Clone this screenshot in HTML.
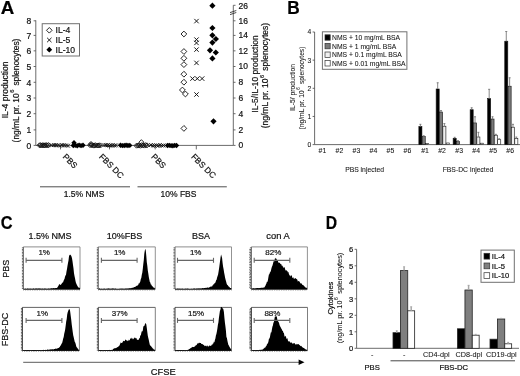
<!DOCTYPE html>
<html lang="en">
<head>
<meta charset="utf-8">
<title>Figure: cytokine production and CFSE proliferation</title>
<style>
html,body{margin:0;padding:0;background:#fff;}
body{width:520px;height:376px;overflow:hidden;}
svg{display:block;font-family:'Liberation Sans', sans-serif;}
text{stroke:#111;stroke-width:0.2px;}
text.s{stroke-width:0.06px;}
</style>
</head>
<body>
<svg width="520" height="376" viewBox="0 0 520 376">
<defs><filter id="soft" x="-2%" y="-2%" width="104%" height="104%"><feGaussianBlur stdDeviation="0.3"/></filter></defs>
<rect width="520" height="376" fill="#fff"/>
<g filter="url(#soft)">
<g id="panelA">
<text transform="translate(0.70 14.10) scale(1.05 1)" font-size="17.8" font-weight="bold" fill="#000" stroke="#000" stroke-width="0.2">A</text>
<line x1="35.80" y1="20.30" x2="35.80" y2="145.40" stroke="#505050" stroke-width="0.85" />
<line x1="35.80" y1="145.40" x2="233.30" y2="145.40" stroke="#505050" stroke-width="0.85" />
<line x1="33.60" y1="145.40" x2="35.80" y2="145.40" stroke="#505050" stroke-width="0.85" />
<text x="31.20" y="148.60" font-size="8.5" text-anchor="end" font-weight="normal" fill="#111" >0</text>
<line x1="33.60" y1="129.90" x2="35.80" y2="129.90" stroke="#505050" stroke-width="0.85" />
<text x="31.20" y="133.10" font-size="8.5" text-anchor="end" font-weight="normal" fill="#111" >1</text>
<line x1="33.60" y1="113.70" x2="35.80" y2="113.70" stroke="#505050" stroke-width="0.85" />
<text x="31.20" y="116.90" font-size="8.5" text-anchor="end" font-weight="normal" fill="#111" >2</text>
<line x1="33.60" y1="98.00" x2="35.80" y2="98.00" stroke="#505050" stroke-width="0.85" />
<text x="31.20" y="101.20" font-size="8.5" text-anchor="end" font-weight="normal" fill="#111" >3</text>
<line x1="33.60" y1="82.30" x2="35.80" y2="82.30" stroke="#505050" stroke-width="0.85" />
<text x="31.20" y="85.50" font-size="8.5" text-anchor="end" font-weight="normal" fill="#111" >4</text>
<line x1="33.60" y1="66.50" x2="35.80" y2="66.50" stroke="#505050" stroke-width="0.85" />
<text x="31.20" y="69.70" font-size="8.5" text-anchor="end" font-weight="normal" fill="#111" >5</text>
<line x1="33.60" y1="50.85" x2="35.80" y2="50.85" stroke="#505050" stroke-width="0.85" />
<text x="31.20" y="54.05" font-size="8.5" text-anchor="end" font-weight="normal" fill="#111" >6</text>
<line x1="33.60" y1="35.40" x2="35.80" y2="35.40" stroke="#505050" stroke-width="0.85" />
<text x="31.20" y="38.60" font-size="8.5" text-anchor="end" font-weight="normal" fill="#111" >7</text>
<line x1="33.60" y1="20.80" x2="35.80" y2="20.80" stroke="#505050" stroke-width="0.85" />
<text x="31.20" y="24.00" font-size="8.5" text-anchor="end" font-weight="normal" fill="#111" >8</text>
<line x1="233.30" y1="5.30" x2="233.30" y2="145.40" stroke="#505050" stroke-width="0.85" />
<line x1="233.30" y1="145.40" x2="235.50" y2="145.40" stroke="#505050" stroke-width="0.85" />
<text x="238.60" y="148.30" font-size="8.5" text-anchor="start" font-weight="normal" fill="#111" >0</text>
<line x1="233.30" y1="129.90" x2="235.50" y2="129.90" stroke="#505050" stroke-width="0.85" />
<text x="238.60" y="132.80" font-size="8.5" text-anchor="start" font-weight="normal" fill="#111" >2</text>
<line x1="233.30" y1="113.70" x2="235.50" y2="113.70" stroke="#505050" stroke-width="0.85" />
<text x="238.60" y="116.60" font-size="8.5" text-anchor="start" font-weight="normal" fill="#111" >4</text>
<line x1="233.30" y1="98.00" x2="235.50" y2="98.00" stroke="#505050" stroke-width="0.85" />
<text x="238.60" y="100.90" font-size="8.5" text-anchor="start" font-weight="normal" fill="#111" >6</text>
<line x1="233.30" y1="82.30" x2="235.50" y2="82.30" stroke="#505050" stroke-width="0.85" />
<text x="238.60" y="85.20" font-size="8.5" text-anchor="start" font-weight="normal" fill="#111" >8</text>
<line x1="233.30" y1="66.50" x2="235.50" y2="66.50" stroke="#505050" stroke-width="0.85" />
<text x="238.60" y="69.40" font-size="8.5" text-anchor="start" font-weight="normal" fill="#111" >10</text>
<line x1="233.30" y1="50.85" x2="235.50" y2="50.85" stroke="#505050" stroke-width="0.85" />
<text x="238.60" y="53.75" font-size="8.5" text-anchor="start" font-weight="normal" fill="#111" >12</text>
<line x1="233.30" y1="35.40" x2="235.50" y2="35.40" stroke="#505050" stroke-width="0.85" />
<text x="238.60" y="38.30" font-size="8.5" text-anchor="start" font-weight="normal" fill="#111" >14</text>
<line x1="233.30" y1="20.80" x2="235.50" y2="20.80" stroke="#505050" stroke-width="0.85" />
<text x="238.60" y="23.70" font-size="8.5" text-anchor="start" font-weight="normal" fill="#111" >16</text>
<line x1="233.30" y1="5.30" x2="235.50" y2="5.30" stroke="#505050" stroke-width="0.85" />
<text x="238.60" y="9.00" font-size="8.5" text-anchor="start" font-weight="normal" fill="#111" >26</text>
<line x1="230.00" y1="12.60" x2="236.30" y2="10.50" stroke="#333" stroke-width="0.9" />
<line x1="230.00" y1="14.60" x2="236.30" y2="12.50" stroke="#333" stroke-width="0.9" />
<line x1="60.50" y1="145.40" x2="60.50" y2="149.40" stroke="#505050" stroke-width="0.85" />
<line x1="109.50" y1="145.40" x2="109.50" y2="149.40" stroke="#505050" stroke-width="0.85" />
<line x1="155.20" y1="145.40" x2="155.20" y2="149.40" stroke="#505050" stroke-width="0.85" />
<line x1="196.30" y1="145.40" x2="196.30" y2="149.40" stroke="#505050" stroke-width="0.85" />
<text x="8.10" y="90.00" font-size="8.5" text-anchor="middle" font-weight="normal" fill="#111" transform="rotate(-90 8.10 90.00)" >IL-4 production</text>
<text x="18.80" y="90.50" font-size="8.4" text-anchor="middle" font-weight="normal" fill="#111" transform="rotate(-90 18.80 90.50)" >(ng/mL pr. 10<tspan font-size="68%" dy="-0.82em" dx="0.1em">6</tspan><tspan dy="0.558em" dx="0.2em"> splenocytes)</tspan></text>
<text x="257.80" y="74.00" font-size="8.4" text-anchor="middle" font-weight="normal" fill="#111" transform="rotate(-90 257.80 74.00)" >IL-5/IL-10 production</text>
<text x="268.30" y="75.60" font-size="8.5" text-anchor="middle" font-weight="normal" fill="#111" transform="rotate(-90 268.30 75.60)" >(ng/mL pr. 10<tspan font-size="68%" dy="-0.82em" dx="0.1em">6</tspan><tspan dy="0.558em" dx="0.2em"> splenocytes)</tspan></text>
<rect x="42.20" y="23.70" width="37.30" height="32.30" fill="#fff" stroke="#707070" stroke-width="1"/>
<path d="M49.30 27.50L52.10 30.30L49.30 33.10L46.50 30.30Z" fill="#fff" stroke="#111" stroke-width="0.9"/>
<text x="55.50" y="33.40" font-size="8.6" text-anchor="start" font-weight="normal" fill="#111" >IL-4</text>
<path d="M47.10 37.80L51.50 42.20M47.10 42.20L51.50 37.80" fill="none" stroke="#111" stroke-width="0.95"/>
<text x="55.50" y="43.00" font-size="8.6" text-anchor="start" font-weight="normal" fill="#111" >IL-5</text>
<path d="M49.30 46.80L52.20 49.70L49.30 52.60L46.40 49.70Z" fill="#000"/>
<text x="55.50" y="52.80" font-size="8.6" text-anchor="start" font-weight="normal" fill="#111" >IL-10</text>
<path d="M39.50 142.78L42.00 145.28L39.50 147.78L37.00 145.28Z" fill="none" stroke="#111" stroke-width="0.9"/>
<path d="M40.62 142.66L43.12 145.16L40.62 147.66L38.12 145.16Z" fill="none" stroke="#111" stroke-width="0.9"/>
<path d="M41.75 143.01L44.25 145.51L41.75 148.01L39.25 145.51Z" fill="none" stroke="#111" stroke-width="0.9"/>
<path d="M42.88 142.60L45.38 145.10L42.88 147.60L40.38 145.10Z" fill="none" stroke="#111" stroke-width="0.9"/>
<path d="M44.00 142.93L46.50 145.43L44.00 147.93L41.50 145.43Z" fill="none" stroke="#111" stroke-width="0.9"/>
<path d="M45.12 142.81L47.62 145.31L45.12 147.81L42.62 145.31Z" fill="none" stroke="#111" stroke-width="0.9"/>
<path d="M46.25 142.59L48.75 145.09L46.25 147.59L43.75 145.09Z" fill="none" stroke="#111" stroke-width="0.9"/>
<path d="M47.38 142.91L49.88 145.41L47.38 147.91L44.88 145.41Z" fill="none" stroke="#111" stroke-width="0.9"/>
<path d="M48.50 142.58L51.00 145.08L48.50 147.58L46.00 145.08Z" fill="none" stroke="#111" stroke-width="0.9"/>
<path d="M50.10 143.45L53.90 147.25M50.10 147.25L53.90 143.45" fill="none" stroke="#111" stroke-width="0.95"/>
<path d="M52.10 143.20L55.90 147.00M52.10 147.00L55.90 143.20" fill="none" stroke="#111" stroke-width="0.95"/>
<path d="M54.10 143.21L57.90 147.01M54.10 147.01L57.90 143.21" fill="none" stroke="#111" stroke-width="0.95"/>
<path d="M56.10 143.45L59.90 147.25M56.10 147.25L59.90 143.45" fill="none" stroke="#111" stroke-width="0.95"/>
<path d="M58.10 143.73L61.90 147.53M58.10 147.53L61.90 143.73" fill="none" stroke="#111" stroke-width="0.95"/>
<path d="M60.10 143.24L63.90 147.04M60.10 147.04L63.90 143.24" fill="none" stroke="#111" stroke-width="0.95"/>
<path d="M62.10 143.31L65.90 147.11M62.10 147.11L65.90 143.31" fill="none" stroke="#111" stroke-width="0.95"/>
<path d="M64.10 143.59L67.90 147.39M64.10 147.39L67.90 143.59" fill="none" stroke="#111" stroke-width="0.95"/>
<path d="M66.10 143.81L69.90 147.61M66.10 147.61L69.90 143.81" fill="none" stroke="#111" stroke-width="0.95"/>
<path d="M73.30 142.75L76.00 145.45L73.30 148.15L70.60 145.45Z" fill="#000"/>
<path d="M75.24 142.63L77.94 145.33L75.24 148.03L72.54 145.33Z" fill="#000"/>
<path d="M77.18 143.03L79.88 145.73L77.18 148.43L74.48 145.73Z" fill="#000"/>
<path d="M79.12 142.38L81.82 145.08L79.12 147.78L76.42 145.08Z" fill="#000"/>
<path d="M81.06 142.95L83.76 145.65L81.06 148.35L78.36 145.65Z" fill="#000"/>
<path d="M83.00 142.55L85.70 145.25L83.00 147.95L80.30 145.25Z" fill="#000"/>
<path d="M74.00 140.10L76.70 142.80L74.00 145.50L71.30 142.80Z" fill="#000"/>
<path d="M90.00 142.65L92.50 145.15L90.00 147.65L87.50 145.15Z" fill="none" stroke="#111" stroke-width="0.9"/>
<path d="M91.31 142.63L93.81 145.13L91.31 147.63L88.81 145.13Z" fill="none" stroke="#111" stroke-width="0.9"/>
<path d="M92.62 142.77L95.12 145.27L92.62 147.77L90.12 145.27Z" fill="none" stroke="#111" stroke-width="0.9"/>
<path d="M93.94 143.12L96.44 145.62L93.94 148.12L91.44 145.62Z" fill="none" stroke="#111" stroke-width="0.9"/>
<path d="M95.25 142.68L97.75 145.18L95.25 147.68L92.75 145.18Z" fill="none" stroke="#111" stroke-width="0.9"/>
<path d="M96.56 142.96L99.06 145.46L96.56 147.96L94.06 145.46Z" fill="none" stroke="#111" stroke-width="0.9"/>
<path d="M97.88 143.00L100.38 145.50L97.88 148.00L95.38 145.50Z" fill="none" stroke="#111" stroke-width="0.9"/>
<path d="M99.19 142.81L101.69 145.31L99.19 147.81L96.69 145.31Z" fill="none" stroke="#111" stroke-width="0.9"/>
<path d="M100.50 142.93L103.00 145.43L100.50 147.93L98.00 145.43Z" fill="none" stroke="#111" stroke-width="0.9"/>
<path d="M91.00 141.50L93.50 144.00L91.00 146.50L88.50 144.00Z" fill="none" stroke="#111" stroke-width="0.9"/>
<path d="M102.60 143.19L106.40 146.99M102.60 146.99L106.40 143.19" fill="none" stroke="#111" stroke-width="0.95"/>
<path d="M104.24 143.19L108.04 146.99M104.24 146.99L108.04 143.19" fill="none" stroke="#111" stroke-width="0.95"/>
<path d="M105.89 143.29L109.69 147.09M105.89 147.09L109.69 143.29" fill="none" stroke="#111" stroke-width="0.95"/>
<path d="M107.53 143.63L111.33 147.43M107.53 147.43L111.33 143.63" fill="none" stroke="#111" stroke-width="0.95"/>
<path d="M109.17 143.45L112.97 147.25M109.17 147.25L112.97 143.45" fill="none" stroke="#111" stroke-width="0.95"/>
<path d="M110.81 143.37L114.61 147.17M110.81 147.17L114.61 143.37" fill="none" stroke="#111" stroke-width="0.95"/>
<path d="M112.46 143.56L116.26 147.36M112.46 147.36L116.26 143.56" fill="none" stroke="#111" stroke-width="0.95"/>
<path d="M114.10 143.47L117.90 147.27M114.10 147.27L117.90 143.47" fill="none" stroke="#111" stroke-width="0.95"/>
<path d="M120.50 142.56L123.20 145.26L120.50 147.96L117.80 145.26Z" fill="#000"/>
<path d="M122.36 142.91L125.06 145.61L122.36 148.31L119.66 145.61Z" fill="#000"/>
<path d="M124.22 142.84L126.92 145.54L124.22 148.24L121.52 145.54Z" fill="#000"/>
<path d="M126.08 142.52L128.78 145.22L126.08 147.92L123.38 145.22Z" fill="#000"/>
<path d="M127.94 142.75L130.64 145.45L127.94 148.15L125.24 145.45Z" fill="#000"/>
<path d="M129.80 142.72L132.50 145.42L129.80 148.12L127.10 145.42Z" fill="#000"/>
<path d="M136.50 143.16L139.00 145.66L136.50 148.16L134.00 145.66Z" fill="none" stroke="#111" stroke-width="0.9"/>
<path d="M137.81 143.06L140.31 145.56L137.81 148.06L135.31 145.56Z" fill="none" stroke="#111" stroke-width="0.9"/>
<path d="M139.12 142.75L141.62 145.25L139.12 147.75L136.62 145.25Z" fill="none" stroke="#111" stroke-width="0.9"/>
<path d="M140.44 143.24L142.94 145.74L140.44 148.24L137.94 145.74Z" fill="none" stroke="#111" stroke-width="0.9"/>
<path d="M141.75 142.63L144.25 145.13L141.75 147.63L139.25 145.13Z" fill="none" stroke="#111" stroke-width="0.9"/>
<path d="M143.06 142.84L145.56 145.34L143.06 147.84L140.56 145.34Z" fill="none" stroke="#111" stroke-width="0.9"/>
<path d="M144.38 143.08L146.88 145.58L144.38 148.08L141.88 145.58Z" fill="none" stroke="#111" stroke-width="0.9"/>
<path d="M145.69 142.66L148.19 145.16L145.69 147.66L143.19 145.16Z" fill="none" stroke="#111" stroke-width="0.9"/>
<path d="M147.00 142.89L149.50 145.39L147.00 147.89L144.50 145.39Z" fill="none" stroke="#111" stroke-width="0.9"/>
<path d="M141.40 139.70L143.90 142.20L141.40 144.70L138.90 142.20Z" fill="none" stroke="#111" stroke-width="0.9"/>
<path d="M149.10 143.18L152.90 146.98M149.10 146.98L152.90 143.18" fill="none" stroke="#111" stroke-width="0.95"/>
<path d="M150.89 143.62L154.69 147.42M150.89 147.42L154.69 143.62" fill="none" stroke="#111" stroke-width="0.95"/>
<path d="M152.67 143.69L156.47 147.49M152.67 147.49L156.47 143.69" fill="none" stroke="#111" stroke-width="0.95"/>
<path d="M154.46 143.55L158.26 147.35M154.46 147.35L158.26 143.55" fill="none" stroke="#111" stroke-width="0.95"/>
<path d="M156.24 143.76L160.04 147.56M156.24 147.56L160.04 143.76" fill="none" stroke="#111" stroke-width="0.95"/>
<path d="M158.03 143.37L161.83 147.17M158.03 147.17L161.83 143.37" fill="none" stroke="#111" stroke-width="0.95"/>
<path d="M159.81 143.64L163.61 147.44M159.81 147.44L163.61 143.64" fill="none" stroke="#111" stroke-width="0.95"/>
<path d="M161.60 143.57L165.40 147.37M161.60 147.37L165.40 143.57" fill="none" stroke="#111" stroke-width="0.95"/>
<path d="M167.50 142.76L170.20 145.46L167.50 148.16L164.80 145.46Z" fill="#000"/>
<path d="M169.30 142.67L172.00 145.37L169.30 148.07L166.60 145.37Z" fill="#000"/>
<path d="M171.10 142.94L173.80 145.64L171.10 148.34L168.40 145.64Z" fill="#000"/>
<path d="M172.90 143.01L175.60 145.71L172.90 148.41L170.20 145.71Z" fill="#000"/>
<path d="M174.70 142.68L177.40 145.38L174.70 148.08L172.00 145.38Z" fill="#000"/>
<path d="M176.50 142.81L179.20 145.51L176.50 148.21L173.80 145.51Z" fill="#000"/>
<path d="M183.90 31.10L186.80 34.00L183.90 36.90L181.00 34.00Z" fill="#fff" stroke="#111" stroke-width="0.9"/>
<path d="M183.90 48.60L186.80 51.50L183.90 54.40L181.00 51.50Z" fill="#fff" stroke="#111" stroke-width="0.9"/>
<path d="M183.90 55.40L186.80 58.30L183.90 61.20L181.00 58.30Z" fill="#fff" stroke="#111" stroke-width="0.9"/>
<path d="M183.90 61.70L186.80 64.60L183.90 67.50L181.00 64.60Z" fill="#fff" stroke="#111" stroke-width="0.9"/>
<path d="M183.90 71.30L186.80 74.20L183.90 77.10L181.00 74.20Z" fill="#fff" stroke="#111" stroke-width="0.9"/>
<path d="M183.90 79.30L186.80 82.20L183.90 85.10L181.00 82.20Z" fill="#fff" stroke="#111" stroke-width="0.9"/>
<path d="M183.90 125.50L186.80 128.40L183.90 131.30L181.00 128.40Z" fill="#fff" stroke="#111" stroke-width="0.9"/>
<path d="M182.40 87.10L185.30 90.00L182.40 92.90L179.50 90.00Z" fill="#fff" stroke="#111" stroke-width="0.9"/>
<path d="M185.40 91.10L188.30 94.00L185.40 96.90L182.50 94.00Z" fill="#fff" stroke="#111" stroke-width="0.9"/>
<path d="M194.30 18.90L198.70 23.30M194.30 23.30L198.70 18.90" fill="none" stroke="#111" stroke-width="0.95"/>
<path d="M194.30 37.40L198.70 41.80M194.30 41.80L198.70 37.40" fill="none" stroke="#111" stroke-width="0.95"/>
<path d="M194.30 40.70L198.70 45.10M194.30 45.10L198.70 40.70" fill="none" stroke="#111" stroke-width="0.95"/>
<path d="M194.30 47.40L198.70 51.80M194.30 51.80L198.70 47.40" fill="none" stroke="#111" stroke-width="0.95"/>
<path d="M194.30 60.70L198.70 65.10M194.30 65.10L198.70 60.70" fill="none" stroke="#111" stroke-width="0.95"/>
<path d="M194.30 92.30L198.70 96.70M194.30 96.70L198.70 92.30" fill="none" stroke="#111" stroke-width="0.95"/>
<path d="M190.30 76.40L194.70 80.80M190.30 80.80L194.70 76.40" fill="none" stroke="#111" stroke-width="0.95"/>
<path d="M195.10 76.40L199.50 80.80M195.10 80.80L199.50 76.40" fill="none" stroke="#111" stroke-width="0.95"/>
<path d="M199.90 76.40L204.30 80.80M199.90 80.80L204.30 76.40" fill="none" stroke="#111" stroke-width="0.95"/>
<path d="M212.40 2.60L215.50 5.70L212.40 8.80L209.30 5.70Z" fill="#000"/>
<path d="M212.40 24.90L215.50 28.00L212.40 31.10L209.30 28.00Z" fill="#000"/>
<path d="M212.40 32.20L215.50 35.30L212.40 38.40L209.30 35.30Z" fill="#000"/>
<path d="M215.90 35.90L219.00 39.00L215.90 42.10L212.80 39.00Z" fill="#000"/>
<path d="M212.40 39.50L215.50 42.60L212.40 45.70L209.30 42.60Z" fill="#000"/>
<path d="M210.00 47.20L213.10 50.30L210.00 53.40L206.90 50.30Z" fill="#000"/>
<path d="M215.80 49.40L218.90 52.50L215.80 55.60L212.70 52.50Z" fill="#000"/>
<path d="M212.40 55.30L215.50 58.40L212.40 61.50L209.30 58.40Z" fill="#000"/>
<path d="M213.50 118.20L216.60 121.30L213.50 124.40L210.40 121.30Z" fill="#000"/>
<text x="62.20" y="157.20" font-size="8.4" text-anchor="start" font-weight="normal" fill="#111" transform="rotate(45 62.20 157.20)" >PBS</text>
<text x="98.60" y="157.20" font-size="8.4" text-anchor="start" font-weight="normal" fill="#111" transform="rotate(45 98.60 157.20)" >FBS DC</text>
<text x="150.70" y="157.20" font-size="8.4" text-anchor="start" font-weight="normal" fill="#111" transform="rotate(45 150.70 157.20)" >PBS</text>
<text x="190.70" y="157.20" font-size="8.4" text-anchor="start" font-weight="normal" fill="#111" transform="rotate(45 190.70 157.20)" >FBS DC</text>
<line x1="40.00" y1="186.80" x2="130.00" y2="186.80" stroke="#444" stroke-width="0.95" />
<line x1="137.50" y1="186.80" x2="226.80" y2="186.80" stroke="#444" stroke-width="0.95" />
<text x="84.00" y="196.80" font-size="8.5" text-anchor="middle" font-weight="normal" fill="#111" >1.5% NMS</text>
<text x="178.50" y="196.80" font-size="8.5" text-anchor="middle" font-weight="normal" fill="#111" >10% FBS</text>
</g>
<g id="panelB">
<text transform="translate(287.20 13.80) scale(0.97 1)" font-size="17.8" font-weight="bold" fill="#000" stroke="#000" stroke-width="0.2">B</text>
<line x1="314.60" y1="32.00" x2="314.60" y2="144.60" stroke="#505050" stroke-width="0.85" />
<line x1="314.60" y1="144.60" x2="520.00" y2="144.60" stroke="#505050" stroke-width="0.85" />
<line x1="312.60" y1="144.60" x2="314.60" y2="144.60" stroke="#505050" stroke-width="0.85" />
<text x="311.30" y="147.00" font-size="6.7" text-anchor="end" font-weight="normal" fill="#111"  class="s">0</text>
<line x1="312.60" y1="116.45" x2="314.60" y2="116.45" stroke="#505050" stroke-width="0.85" />
<text x="311.30" y="118.85" font-size="6.7" text-anchor="end" font-weight="normal" fill="#111"  class="s">1</text>
<line x1="312.60" y1="88.30" x2="314.60" y2="88.30" stroke="#505050" stroke-width="0.85" />
<text x="311.30" y="90.70" font-size="6.7" text-anchor="end" font-weight="normal" fill="#111"  class="s">2</text>
<line x1="312.60" y1="60.15" x2="314.60" y2="60.15" stroke="#505050" stroke-width="0.85" />
<text x="311.30" y="62.55" font-size="6.7" text-anchor="end" font-weight="normal" fill="#111"  class="s">3</text>
<line x1="312.60" y1="32.00" x2="314.60" y2="32.00" stroke="#505050" stroke-width="0.85" />
<text x="311.30" y="34.40" font-size="6.7" text-anchor="end" font-weight="normal" fill="#111"  class="s">4</text>
<text x="294.80" y="87.40" font-size="6.75" text-anchor="middle" font-weight="normal" fill="#111" transform="rotate(-90 294.80 87.40)"  class="s">IL-5/ production</text>
<text x="303.50" y="88.00" font-size="6.7" text-anchor="middle" font-weight="normal" fill="#111" transform="rotate(-90 303.50 88.00)"  class="s">(ng/mL pr. 10<tspan font-size="68%" dy="-0.82em" dx="0.1em">6</tspan><tspan dy="0.558em" dx="0.2em"> splenocytes)</tspan></text>
<rect x="322.40" y="31.80" width="84.50" height="37.50" fill="#fff" stroke="#707070" stroke-width="1"/>
<rect x="325.00" y="34.80" width="5.20" height="5.40" fill="#000" stroke="#333" stroke-width="0.7"/>
<text x="332.00" y="40.00" font-size="6.78" text-anchor="start" font-weight="normal" fill="#111"  class="s">NMS + 10 mg/mL BSA</text>
<rect x="325.00" y="43.40" width="5.20" height="5.40" fill="#7a7a7a" stroke="#333" stroke-width="0.7"/>
<text x="332.00" y="48.60" font-size="6.78" text-anchor="start" font-weight="normal" fill="#111"  class="s">NMS + 1 mg/mL BSA</text>
<rect x="325.00" y="52.00" width="5.20" height="5.40" fill="#f0f0f0" stroke="#333" stroke-width="0.7"/>
<text x="332.00" y="57.20" font-size="6.78" text-anchor="start" font-weight="normal" fill="#111"  class="s">NMS + 0.1 mg/mL BSA</text>
<rect x="325.00" y="60.60" width="5.20" height="5.40" fill="#fff" stroke="#333" stroke-width="0.7"/>
<text x="332.00" y="65.80" font-size="6.78" text-anchor="start" font-weight="normal" fill="#111"  class="s">NMS + 0.01 mg/mL BSA</text>
<text x="322.40" y="153.10" font-size="6.9" text-anchor="middle" font-weight="normal" fill="#111"  class="s">#1</text>
<text x="339.40" y="153.10" font-size="6.9" text-anchor="middle" font-weight="normal" fill="#111"  class="s">#2</text>
<text x="356.40" y="153.10" font-size="6.9" text-anchor="middle" font-weight="normal" fill="#111"  class="s">#3</text>
<text x="373.40" y="153.10" font-size="6.9" text-anchor="middle" font-weight="normal" fill="#111"  class="s">#4</text>
<text x="390.40" y="153.10" font-size="6.9" text-anchor="middle" font-weight="normal" fill="#111"  class="s">#5</text>
<text x="407.40" y="153.10" font-size="6.9" text-anchor="middle" font-weight="normal" fill="#111"  class="s">#6</text>
<text x="425.10" y="153.10" font-size="6.9" text-anchor="middle" font-weight="normal" fill="#111"  class="s">#1</text>
<text x="442.12" y="153.10" font-size="6.9" text-anchor="middle" font-weight="normal" fill="#111"  class="s">#2</text>
<text x="459.14" y="153.10" font-size="6.9" text-anchor="middle" font-weight="normal" fill="#111"  class="s">#3</text>
<text x="476.16" y="153.10" font-size="6.9" text-anchor="middle" font-weight="normal" fill="#111"  class="s">#4</text>
<text x="493.18" y="153.10" font-size="6.9" text-anchor="middle" font-weight="normal" fill="#111"  class="s">#5</text>
<text x="510.20" y="153.10" font-size="6.9" text-anchor="middle" font-weight="normal" fill="#111"  class="s">#6</text>
<text x="364.60" y="172.40" font-size="6.8" text-anchor="middle" font-weight="normal" fill="#111"  class="s">PBS injected</text>
<text x="468.00" y="172.40" font-size="6.8" text-anchor="middle" font-weight="normal" fill="#111"  class="s">FBS-DC injected</text>
<rect x="418.85" y="126.50" width="3.05" height="18.10" fill="#000" stroke="#111" stroke-width="0.6"/>
<line x1="420.38" y1="124.00" x2="420.38" y2="126.50" stroke="#7a7a7a" stroke-width="0.9" />
<line x1="419.38" y1="124.30" x2="421.38" y2="124.30" stroke="#7a7a7a" stroke-width="0.9" />
<rect x="422.20" y="136.50" width="3.05" height="8.10" fill="#7a7a7a" stroke="#111" stroke-width="0.6"/>
<line x1="423.73" y1="135.50" x2="423.73" y2="136.50" stroke="#7a7a7a" stroke-width="0.9" />
<line x1="422.73" y1="135.80" x2="424.73" y2="135.80" stroke="#7a7a7a" stroke-width="0.9" />
<rect x="425.55" y="143.40" width="3.05" height="1.20" fill="#f0f0f0" stroke="#111" stroke-width="0.6"/>
<rect x="436.15" y="89.00" width="3.05" height="55.60" fill="#000" stroke="#111" stroke-width="0.6"/>
<line x1="437.68" y1="82.50" x2="437.68" y2="89.00" stroke="#7a7a7a" stroke-width="0.9" />
<line x1="436.68" y1="82.80" x2="438.68" y2="82.80" stroke="#7a7a7a" stroke-width="0.9" />
<rect x="439.50" y="112.00" width="3.05" height="32.60" fill="#7a7a7a" stroke="#111" stroke-width="0.6"/>
<line x1="441.03" y1="110.30" x2="441.03" y2="112.00" stroke="#7a7a7a" stroke-width="0.9" />
<line x1="440.03" y1="110.60" x2="442.03" y2="110.60" stroke="#7a7a7a" stroke-width="0.9" />
<rect x="442.85" y="126.20" width="3.05" height="18.40" fill="#f0f0f0" stroke="#111" stroke-width="0.6"/>
<line x1="444.38" y1="123.30" x2="444.38" y2="126.20" stroke="#7a7a7a" stroke-width="0.9" />
<line x1="443.38" y1="123.60" x2="445.38" y2="123.60" stroke="#7a7a7a" stroke-width="0.9" />
<rect x="446.20" y="143.00" width="3.05" height="1.60" fill="#fff" stroke="#111" stroke-width="0.6"/>
<rect x="453.15" y="138.30" width="3.05" height="6.30" fill="#000" stroke="#111" stroke-width="0.6"/>
<line x1="454.68" y1="137.00" x2="454.68" y2="138.30" stroke="#7a7a7a" stroke-width="0.9" />
<line x1="453.68" y1="137.30" x2="455.68" y2="137.30" stroke="#7a7a7a" stroke-width="0.9" />
<rect x="456.50" y="141.50" width="3.05" height="3.10" fill="#7a7a7a" stroke="#111" stroke-width="0.6"/>
<line x1="458.03" y1="140.40" x2="458.03" y2="141.50" stroke="#7a7a7a" stroke-width="0.9" />
<line x1="457.03" y1="140.70" x2="459.03" y2="140.70" stroke="#7a7a7a" stroke-width="0.9" />
<rect x="470.15" y="109.70" width="3.05" height="34.90" fill="#000" stroke="#111" stroke-width="0.6"/>
<line x1="471.68" y1="107.50" x2="471.68" y2="109.70" stroke="#7a7a7a" stroke-width="0.9" />
<line x1="470.68" y1="107.80" x2="472.68" y2="107.80" stroke="#7a7a7a" stroke-width="0.9" />
<rect x="473.50" y="122.90" width="3.05" height="21.70" fill="#7a7a7a" stroke="#111" stroke-width="0.6"/>
<line x1="475.03" y1="116.50" x2="475.03" y2="122.90" stroke="#7a7a7a" stroke-width="0.9" />
<line x1="474.03" y1="116.80" x2="476.03" y2="116.80" stroke="#7a7a7a" stroke-width="0.9" />
<rect x="476.85" y="137.00" width="3.05" height="7.60" fill="#f0f0f0" stroke="#111" stroke-width="0.6"/>
<line x1="478.38" y1="132.00" x2="478.38" y2="137.00" stroke="#7a7a7a" stroke-width="0.9" />
<line x1="477.38" y1="132.30" x2="479.38" y2="132.30" stroke="#7a7a7a" stroke-width="0.9" />
<rect x="480.20" y="143.20" width="3.05" height="1.40" fill="#fff" stroke="#111" stroke-width="0.6"/>
<rect x="487.65" y="98.50" width="3.05" height="46.10" fill="#000" stroke="#111" stroke-width="0.6"/>
<line x1="489.18" y1="89.00" x2="489.18" y2="98.50" stroke="#7a7a7a" stroke-width="0.9" />
<line x1="488.18" y1="89.30" x2="490.18" y2="89.30" stroke="#7a7a7a" stroke-width="0.9" />
<rect x="491.00" y="119.00" width="3.05" height="25.60" fill="#7a7a7a" stroke="#111" stroke-width="0.6"/>
<line x1="492.53" y1="116.50" x2="492.53" y2="119.00" stroke="#7a7a7a" stroke-width="0.9" />
<line x1="491.53" y1="116.80" x2="493.53" y2="116.80" stroke="#7a7a7a" stroke-width="0.9" />
<rect x="494.35" y="135.20" width="3.05" height="9.40" fill="#f0f0f0" stroke="#111" stroke-width="0.6"/>
<line x1="495.88" y1="134.00" x2="495.88" y2="135.20" stroke="#7a7a7a" stroke-width="0.9" />
<line x1="494.88" y1="134.30" x2="496.88" y2="134.30" stroke="#7a7a7a" stroke-width="0.9" />
<rect x="497.70" y="139.70" width="3.05" height="4.90" fill="#fff" stroke="#111" stroke-width="0.6"/>
<line x1="499.23" y1="138.50" x2="499.23" y2="139.70" stroke="#7a7a7a" stroke-width="0.9" />
<line x1="498.23" y1="138.80" x2="500.23" y2="138.80" stroke="#7a7a7a" stroke-width="0.9" />
<rect x="504.75" y="41.20" width="3.05" height="103.40" fill="#000" stroke="#111" stroke-width="0.6"/>
<line x1="506.28" y1="31.20" x2="506.28" y2="41.20" stroke="#7a7a7a" stroke-width="0.9" />
<line x1="505.28" y1="31.50" x2="507.28" y2="31.50" stroke="#7a7a7a" stroke-width="0.9" />
<rect x="508.10" y="86.20" width="3.05" height="58.40" fill="#7a7a7a" stroke="#111" stroke-width="0.6"/>
<line x1="509.63" y1="77.50" x2="509.63" y2="86.20" stroke="#7a7a7a" stroke-width="0.9" />
<line x1="508.63" y1="77.80" x2="510.63" y2="77.80" stroke="#7a7a7a" stroke-width="0.9" />
<rect x="511.45" y="127.20" width="3.05" height="17.40" fill="#f0f0f0" stroke="#111" stroke-width="0.6"/>
<line x1="512.98" y1="124.00" x2="512.98" y2="127.20" stroke="#7a7a7a" stroke-width="0.9" />
<line x1="511.98" y1="124.30" x2="513.98" y2="124.30" stroke="#7a7a7a" stroke-width="0.9" />
<rect x="514.80" y="138.30" width="3.05" height="6.30" fill="#fff" stroke="#111" stroke-width="0.6"/>
<line x1="516.32" y1="136.80" x2="516.32" y2="138.30" stroke="#7a7a7a" stroke-width="0.9" />
<line x1="515.32" y1="137.10" x2="517.32" y2="137.10" stroke="#7a7a7a" stroke-width="0.9" />
</g>
<g id="panelC">
<text transform="translate(0.70 229.00) scale(0.92 1)" font-size="17.8" font-weight="bold" fill="#000" stroke="#000" stroke-width="0.2">C</text>
<text x="50.00" y="239.10" font-size="9.0" text-anchor="middle" font-weight="normal" fill="#111" >1.5% NMS</text>
<text x="124.50" y="239.10" font-size="9.0" text-anchor="middle" font-weight="normal" fill="#111" >10%FBS</text>
<text x="201.00" y="239.10" font-size="9.0" text-anchor="middle" font-weight="normal" fill="#111" >BSA</text>
<text x="278.00" y="239.10" font-size="9.4" text-anchor="middle" font-weight="normal" fill="#111" >con A</text>
<text x="8.80" y="268.80" font-size="9.0" text-anchor="middle" font-weight="normal" fill="#111" transform="rotate(-90 8.80 268.80)" >PBS</text>
<text x="8.10" y="329.50" font-size="9.0" text-anchor="middle" font-weight="normal" fill="#111" transform="rotate(-90 8.10 329.50)" >FBS-DC</text>
<path d="M23.40 246.90H80.00" fill="none" stroke="#707070" stroke-width="0.8"/>
<path d="M80.00 246.90V289.20" fill="none" stroke="#777" stroke-width="0.8"/>
<path d="M23.40 246.90V289.20" fill="none" stroke="#555" stroke-width="0.9"/>
<path d="M23.40 289.20H80.00" fill="none" stroke="#1a1a1a" stroke-width="0.95"/>
<line x1="22.50" y1="247.50" x2="22.50" y2="289.20" stroke="#444" stroke-width="1.2" stroke-dasharray="0.7 0.8"/>
<line x1="23.40" y1="290.00" x2="80.00" y2="290.00" stroke="#555" stroke-width="0.9" stroke-dasharray="0.6 1.15"/>
<path d="M23.5 289.2L23.5 288.7L24.0 289.0L24.5 289.0L25.0 288.7L25.5 288.8L26.0 288.8L26.5 288.9L27.0 289.0L27.5 288.6L28.0 288.6L28.5 289.0L29.0 288.8L29.5 289.0L30.0 288.6L30.5 288.8L31.0 288.9L31.5 288.7L32.0 289.0L32.5 289.0L33.0 288.6L33.5 288.6L34.0 288.8L34.5 289.0L35.0 288.7L35.5 288.6L36.0 288.7L36.5 288.5L37.0 288.6L37.5 288.7L38.0 288.8L38.5 288.6L39.0 288.6L39.5 288.6L40.0 288.7L40.5 288.7L41.0 288.5L41.5 288.9L42.0 288.8L42.5 288.8L43.0 288.6L43.5 289.0L44.0 288.9L44.5 288.5L45.0 288.6L45.5 288.8L46.0 288.8L46.5 288.9L47.0 288.7L47.5 288.9L48.0 288.8L48.5 288.6L49.0 288.7L49.5 288.8L50.0 288.8L50.5 288.6L51.0 288.5L51.5 288.2L52.0 288.3L52.5 288.5L53.0 288.3L53.5 288.1L54.0 288.2L54.5 288.3L55.0 288.2L55.5 288.0L56.0 288.0L56.5 288.0L57.0 288.0L57.5 287.2L58.0 286.4L58.5 285.7L59.0 284.4L59.5 284.1L60.0 284.7L60.5 284.9L61.0 284.4L61.5 284.1L62.0 283.0L62.5 282.6L63.0 282.4L63.5 281.1L64.0 279.8L64.5 279.1L65.0 276.7L65.5 275.6L66.0 274.7L66.5 271.6L67.0 269.0L67.5 265.7L68.0 263.0L68.5 260.5L69.0 256.2L69.5 255.0L70.0 254.8L70.5 254.7L71.0 255.4L71.5 256.4L72.0 258.3L72.5 261.2L73.0 264.9L73.5 268.5L74.0 273.2L74.5 276.1L75.0 278.2L75.5 281.1L76.0 282.9L76.5 284.1L77.0 285.2L77.5 286.1L78.0 286.9L78.5 287.6L79.0 287.8L79.5 287.7L80.0 288.0L80.1 289.2Z" fill="#000"/>
<line x1="26.10" y1="260.30" x2="61.90" y2="260.30" stroke="#666" stroke-width="1.2" />
<line x1="26.10" y1="257.80" x2="26.10" y2="262.80" stroke="#666" stroke-width="1.1" />
<line x1="61.90" y1="257.80" x2="61.90" y2="262.80" stroke="#666" stroke-width="1.1" />
<text x="44.20" y="254.60" font-size="8.0" text-anchor="middle" font-weight="normal" fill="#1a1a1a" >1%</text>
<path d="M98.30 246.90H155.30" fill="none" stroke="#707070" stroke-width="0.8"/>
<path d="M155.30 246.90V289.20" fill="none" stroke="#777" stroke-width="0.8"/>
<path d="M98.30 246.90V289.20" fill="none" stroke="#555" stroke-width="0.9"/>
<path d="M98.30 289.20H155.30" fill="none" stroke="#1a1a1a" stroke-width="0.95"/>
<line x1="97.40" y1="247.50" x2="97.40" y2="289.20" stroke="#444" stroke-width="1.2" stroke-dasharray="0.7 0.8"/>
<line x1="98.30" y1="290.00" x2="155.30" y2="290.00" stroke="#555" stroke-width="0.9" stroke-dasharray="0.6 1.15"/>
<path d="M98.3 289.2L98.3 289.1L98.8 289.1L99.3 288.6L99.8 288.6L100.3 289.0L100.8 289.0L101.3 288.9L101.8 288.7L102.3 288.9L102.8 288.9L103.3 288.9L103.8 288.7L104.3 288.8L104.8 288.8L105.3 288.9L105.8 289.1L106.3 289.0L106.8 288.8L107.3 288.8L107.8 288.7L108.3 288.6L108.8 288.6L109.3 288.8L109.8 288.7L110.3 288.7L110.8 289.0L111.3 288.8L111.8 288.8L112.3 288.6L112.8 288.5L113.3 288.7L113.8 288.6L114.3 288.8L114.8 289.0L115.3 288.8L115.8 288.6L116.3 289.0L116.8 288.9L117.3 288.9L117.8 288.9L118.3 288.9L118.8 288.9L119.3 288.7L119.8 289.0L120.3 289.0L120.8 288.6L121.3 288.8L121.8 288.8L122.3 288.7L122.8 288.7L123.3 288.7L123.8 288.9L124.3 288.7L124.8 288.9L125.3 288.6L125.8 288.8L126.3 288.8L126.8 288.5L127.3 288.5L127.8 288.7L128.3 288.5L128.8 288.4L129.3 288.2L129.8 288.2L130.3 288.4L130.8 288.1L131.3 288.3L131.8 287.8L132.3 288.0L132.8 287.5L133.3 287.6L133.8 287.4L134.3 287.1L134.8 286.9L135.3 286.7L135.8 286.4L136.3 286.0L136.8 285.7L137.3 285.5L137.8 285.5L138.3 284.8L138.8 283.3L139.3 283.5L139.8 282.5L140.3 281.5L140.8 279.0L141.3 278.0L141.8 274.8L142.3 272.8L142.8 268.8L143.3 264.0L143.8 259.9L144.3 253.8L144.8 250.8L145.3 248.8L145.8 250.8L146.3 255.9L146.8 262.3L147.3 265.8L147.8 270.4L148.3 273.4L148.8 277.1L149.3 279.6L149.8 282.0L150.3 282.6L150.8 284.6L151.3 284.4L151.8 285.8L152.3 285.9L152.8 286.8L153.3 287.4L153.8 287.4L154.3 287.7L154.8 288.2L155.0 289.2Z" fill="#000"/>
<line x1="101.40" y1="260.30" x2="137.10" y2="260.30" stroke="#666" stroke-width="1.2" />
<line x1="101.40" y1="257.80" x2="101.40" y2="262.80" stroke="#666" stroke-width="1.1" />
<line x1="137.10" y1="257.80" x2="137.10" y2="262.80" stroke="#666" stroke-width="1.1" />
<text x="119.70" y="254.60" font-size="8.0" text-anchor="middle" font-weight="normal" fill="#1a1a1a" >1%</text>
<path d="M175.00 246.90H231.50" fill="none" stroke="#707070" stroke-width="0.8"/>
<path d="M231.50 246.90V289.20" fill="none" stroke="#777" stroke-width="0.8"/>
<path d="M175.00 246.90V289.20" fill="none" stroke="#555" stroke-width="0.9"/>
<path d="M175.00 289.20H231.50" fill="none" stroke="#1a1a1a" stroke-width="0.95"/>
<line x1="174.10" y1="247.50" x2="174.10" y2="289.20" stroke="#444" stroke-width="1.2" stroke-dasharray="0.7 0.8"/>
<line x1="175.00" y1="290.00" x2="231.50" y2="290.00" stroke="#555" stroke-width="0.9" stroke-dasharray="0.6 1.15"/>
<path d="M175.1 289.2L175.1 288.7L175.6 288.9L176.1 288.8L176.6 288.9L177.1 288.9L177.6 288.6L178.1 288.6L178.6 289.0L179.1 288.7L179.6 288.7L180.1 289.1L180.6 288.8L181.1 289.0L181.6 288.8L182.1 288.9L182.6 288.6L183.1 288.9L183.6 289.0L184.1 288.8L184.6 288.9L185.1 288.9L185.6 288.6L186.1 288.9L186.6 288.8L187.1 288.7L187.6 288.5L188.1 289.0L188.6 288.8L189.1 288.9L189.6 288.9L190.1 288.9L190.6 289.0L191.1 288.7L191.6 288.9L192.1 288.7L192.6 289.0L193.1 288.9L193.6 288.5L194.1 288.5L194.6 288.6L195.1 289.0L195.6 288.7L196.1 288.8L196.6 288.6L197.1 288.7L197.6 288.6L198.1 288.5L198.6 288.6L199.1 288.5L199.6 288.6L200.1 288.4L200.6 288.5L201.1 288.4L201.6 288.4L202.1 288.2L202.6 287.9L203.1 288.2L203.6 288.2L204.1 288.1L204.6 287.9L205.1 287.9L205.6 287.7L206.1 287.9L206.6 287.8L207.1 287.6L207.6 287.5L208.1 287.7L208.6 287.8L209.1 287.2L209.6 287.3L210.1 286.9L210.6 286.6L211.1 286.5L211.6 286.6L212.1 286.4L212.6 285.2L213.1 285.2L213.6 284.1L214.1 284.3L214.6 283.1L215.1 282.9L215.6 282.0L216.1 280.3L216.6 279.7L217.1 277.5L217.6 275.9L218.1 274.5L218.6 271.5L219.1 268.2L219.6 264.5L220.1 260.8L220.6 257.0L221.1 254.5L221.6 256.3L222.1 258.3L222.6 263.1L223.1 266.8L223.6 269.3L224.1 272.6L224.6 275.1L225.1 277.8L225.6 279.8L226.1 281.6L226.6 283.4L227.1 284.7L227.6 285.1L228.1 285.7L228.6 286.5L229.1 286.7L229.6 287.3L230.1 287.9L230.6 287.9L231.1 288.1L231.4 289.2Z" fill="#000"/>
<line x1="177.50" y1="260.30" x2="213.50" y2="260.30" stroke="#666" stroke-width="1.2" />
<line x1="177.50" y1="257.80" x2="177.50" y2="262.80" stroke="#666" stroke-width="1.1" />
<line x1="213.50" y1="257.80" x2="213.50" y2="262.80" stroke="#666" stroke-width="1.1" />
<text x="195.70" y="254.60" font-size="8.0" text-anchor="middle" font-weight="normal" fill="#1a1a1a" >1%</text>
<path d="M251.40 246.90H307.40" fill="none" stroke="#707070" stroke-width="0.8"/>
<path d="M307.40 246.90V289.20" fill="none" stroke="#777" stroke-width="0.8"/>
<path d="M251.40 246.90V289.20" fill="none" stroke="#555" stroke-width="0.9"/>
<path d="M251.40 289.20H307.40" fill="none" stroke="#1a1a1a" stroke-width="0.95"/>
<line x1="250.50" y1="247.50" x2="250.50" y2="289.20" stroke="#444" stroke-width="1.2" stroke-dasharray="0.7 0.8"/>
<line x1="251.40" y1="290.00" x2="307.40" y2="290.00" stroke="#555" stroke-width="0.9" stroke-dasharray="0.6 1.15"/>
<line x1="249.90" y1="248.90" x2="249.90" y2="288.20" stroke="#555" stroke-width="1.0" stroke-dasharray="1.0 0.7 0.5 0.6 1.4 0.8"/>
<path d="M251.4 289.2L251.4 288.7L251.9 288.6L252.4 288.6L252.9 288.4L253.4 288.2L253.9 288.3L254.4 288.5L254.9 288.4L255.4 288.4L255.9 288.1L256.4 288.2L256.9 288.0L257.4 287.9L257.9 287.9L258.4 287.9L258.9 288.2L259.4 288.1L259.9 288.1L260.4 288.0L260.9 287.7L261.4 287.7L261.9 287.8L262.4 287.7L262.9 287.7L263.4 287.7L263.9 287.3L264.4 287.4L264.9 286.6L265.4 285.7L265.9 284.5L266.4 283.6L266.9 281.7L267.4 282.0L267.9 280.2L268.4 277.3L268.9 274.6L269.4 274.3L269.9 272.4L270.4 272.1L270.9 270.8L271.4 268.5L271.9 266.7L272.4 265.7L272.9 264.0L273.4 262.0L273.9 261.1L274.4 261.4L274.9 258.6L275.4 257.8L275.9 258.9L276.4 258.6L276.9 259.9L277.4 260.3L277.9 260.7L278.4 263.2L278.9 261.9L279.4 262.9L279.9 262.8L280.4 264.3L280.9 263.8L281.4 264.5L281.9 266.1L282.4 265.6L282.9 266.8L283.4 268.3L283.9 266.8L284.4 267.3L284.9 268.3L285.4 270.3L285.9 270.5L286.4 270.1L286.9 270.9L287.4 271.1L287.9 272.4L288.4 271.8L288.9 274.0L289.4 275.0L289.9 275.7L290.4 275.6L290.9 276.7L291.4 274.7L291.9 276.0L292.4 278.0L292.9 277.8L293.4 277.2L293.9 278.9L294.4 278.3L294.9 279.1L295.4 278.1L295.9 278.2L296.4 279.2L296.9 279.1L297.4 280.1L297.9 281.8L298.4 281.1L298.9 281.0L299.4 281.6L299.9 282.2L300.4 283.5L300.9 283.3L301.4 283.6L301.9 283.7L302.4 285.1L302.9 285.0L303.4 285.3L303.9 285.7L304.4 286.3L304.9 286.9L305.4 287.4L305.9 287.5L306.4 287.7L306.9 288.1L307.0 289.2Z" fill="#000"/>
<line x1="254.20" y1="260.30" x2="289.80" y2="260.30" stroke="#666" stroke-width="1.2" />
<line x1="254.20" y1="257.80" x2="254.20" y2="262.80" stroke="#666" stroke-width="1.1" />
<line x1="289.80" y1="257.80" x2="289.80" y2="262.80" stroke="#666" stroke-width="1.1" />
<text x="273.30" y="254.60" font-size="8.0" text-anchor="middle" font-weight="normal" fill="#1a1a1a" >82%</text>
<path d="M22.40 307.40H79.40" fill="none" stroke="#3c3c3c" stroke-width="0.8"/>
<path d="M79.40 307.40V350.50" fill="none" stroke="#606060" stroke-width="0.8"/>
<path d="M22.40 307.40V350.50" fill="none" stroke="#222" stroke-width="0.9"/>
<path d="M22.40 350.50H79.40" fill="none" stroke="#1a1a1a" stroke-width="0.95"/>
<line x1="21.50" y1="308.00" x2="21.50" y2="350.50" stroke="#444" stroke-width="1.2" stroke-dasharray="0.7 0.8"/>
<line x1="22.40" y1="351.30" x2="79.40" y2="351.30" stroke="#555" stroke-width="0.9" stroke-dasharray="0.6 1.15"/>
<path d="M22.2 350.5L22.2 350.2L22.7 350.2L23.2 350.4L23.7 350.2L24.2 350.2L24.7 350.2L25.2 350.0L25.7 350.2L26.2 350.2L26.7 350.3L27.2 350.0L27.7 350.1L28.2 350.0L28.7 350.3L29.2 350.3L29.7 349.9L30.2 350.4L30.7 350.4L31.2 350.2L31.7 350.2L32.2 350.0L32.7 349.9L33.2 350.1L33.7 349.9L34.2 350.0L34.7 350.0L35.2 349.9L35.7 350.1L36.2 350.1L36.7 350.3L37.2 350.1L37.7 350.2L38.2 350.1L38.7 350.2L39.2 350.1L39.7 350.0L40.2 350.3L40.7 350.3L41.2 350.2L41.7 350.2L42.2 350.0L42.7 349.9L43.2 349.9L43.7 349.8L44.2 350.1L44.7 349.9L45.2 350.0L45.7 349.8L46.2 350.0L46.7 349.9L47.2 349.5L47.7 349.6L48.2 349.9L48.7 349.6L49.2 349.8L49.7 349.5L50.2 349.3L50.7 349.6L51.2 349.6L51.7 349.3L52.2 349.2L52.7 349.2L53.2 349.5L53.7 349.3L54.2 348.9L54.7 348.9L55.2 348.8L55.7 348.6L56.2 348.9L56.7 348.5L57.2 348.6L57.7 348.3L58.2 347.9L58.7 348.0L59.2 347.3L59.7 347.3L60.2 346.0L60.7 345.5L61.2 344.4L61.7 343.6L62.2 342.8L62.7 340.8L63.2 338.4L63.7 337.0L64.2 333.8L64.7 331.8L65.2 329.3L65.7 325.6L66.2 321.4L66.7 319.1L67.2 314.4L67.7 312.2L68.2 310.9L68.7 309.4L69.2 309.4L69.7 309.1L70.2 311.8L70.7 315.8L71.2 319.5L71.7 324.2L72.2 328.0L72.7 331.7L73.2 335.2L73.7 337.3L74.2 339.4L74.7 341.8L75.2 342.5L75.7 343.9L76.2 346.3L76.7 347.2L77.2 347.8L77.7 348.6L78.2 349.3L78.7 349.8L79.1 350.5Z" fill="#000"/>
<line x1="26.10" y1="320.40" x2="61.90" y2="320.40" stroke="#666" stroke-width="1.2" />
<line x1="26.10" y1="317.90" x2="26.10" y2="322.90" stroke="#666" stroke-width="1.1" />
<line x1="61.90" y1="317.90" x2="61.90" y2="322.90" stroke="#666" stroke-width="1.1" />
<text x="42.40" y="316.00" font-size="8.0" text-anchor="middle" font-weight="normal" fill="#1a1a1a" >1%</text>
<path d="M98.30 307.40H155.30" fill="none" stroke="#3c3c3c" stroke-width="0.8"/>
<path d="M155.30 307.40V350.50" fill="none" stroke="#606060" stroke-width="0.8"/>
<path d="M98.30 307.40V350.50" fill="none" stroke="#222" stroke-width="0.9"/>
<path d="M98.30 350.50H155.30" fill="none" stroke="#1a1a1a" stroke-width="0.95"/>
<line x1="97.40" y1="308.00" x2="97.40" y2="350.50" stroke="#444" stroke-width="1.2" stroke-dasharray="0.7 0.8"/>
<line x1="98.30" y1="351.30" x2="155.30" y2="351.30" stroke="#555" stroke-width="0.9" stroke-dasharray="0.6 1.15"/>
<path d="M98.3 350.5L98.3 350.2L98.8 350.3L99.3 350.3L99.8 350.0L100.3 349.9L100.8 350.1L101.3 350.1L101.8 350.3L102.3 350.3L102.8 350.2L103.3 350.2L103.8 350.2L104.3 350.0L104.8 350.1L105.3 350.0L105.8 350.3L106.3 349.9L106.8 350.3L107.3 349.9L107.8 350.2L108.3 350.0L108.8 350.0L109.3 350.3L109.8 349.8L110.3 349.9L110.8 350.3L111.3 350.1L111.8 349.7L112.3 349.9L112.8 349.6L113.3 348.8L113.8 348.7L114.3 348.3L114.8 348.3L115.3 348.3L115.8 347.9L116.3 348.1L116.8 347.4L117.3 347.1L117.8 347.3L118.3 346.6L118.8 346.3L119.3 345.7L119.8 344.7L120.3 343.6L120.8 342.3L121.3 343.1L121.8 343.1L122.3 342.8L122.8 341.8L123.3 340.9L123.8 340.7L124.3 341.3L124.8 341.1L125.3 339.6L125.8 339.8L126.3 340.2L126.8 340.5L127.3 341.2L127.8 340.5L128.3 339.4L128.8 341.3L129.3 340.3L129.8 340.0L130.3 338.5L130.8 338.4L131.3 337.6L131.8 339.0L132.3 338.0L132.8 339.6L133.3 338.3L133.8 339.4L134.3 337.4L134.8 337.8L135.3 337.7L135.8 338.6L136.3 337.8L136.8 339.6L137.3 339.7L137.8 339.9L138.3 339.6L138.8 340.0L139.3 338.0L139.8 338.2L140.3 335.0L140.8 335.8L141.3 333.1L141.8 331.3L142.3 331.4L142.8 330.5L143.3 326.8L143.8 326.1L144.3 326.1L144.8 324.4L145.3 323.6L145.8 323.0L146.3 324.4L146.8 327.9L147.3 332.1L147.8 335.7L148.3 338.1L148.8 339.9L149.3 342.4L149.8 344.8L150.3 345.5L150.8 346.0L151.3 346.4L151.8 347.2L152.3 347.8L152.8 348.4L153.3 348.8L153.8 349.5L154.3 349.7L154.8 349.6L155.0 350.5Z" fill="#000"/>
<line x1="101.40" y1="320.40" x2="137.10" y2="320.40" stroke="#666" stroke-width="1.2" />
<line x1="101.40" y1="317.90" x2="101.40" y2="322.90" stroke="#666" stroke-width="1.1" />
<line x1="137.10" y1="317.90" x2="137.10" y2="322.90" stroke="#666" stroke-width="1.1" />
<text x="119.70" y="316.00" font-size="8.0" text-anchor="middle" font-weight="normal" fill="#1a1a1a" >37%</text>
<path d="M175.00 307.40H231.50" fill="none" stroke="#3c3c3c" stroke-width="0.8"/>
<path d="M231.50 307.40V350.50" fill="none" stroke="#606060" stroke-width="0.8"/>
<path d="M175.00 307.40V350.50" fill="none" stroke="#222" stroke-width="0.9"/>
<path d="M175.00 350.50H231.50" fill="none" stroke="#1a1a1a" stroke-width="0.95"/>
<line x1="174.10" y1="308.00" x2="174.10" y2="350.50" stroke="#444" stroke-width="1.2" stroke-dasharray="0.7 0.8"/>
<line x1="175.00" y1="351.30" x2="231.50" y2="351.30" stroke="#555" stroke-width="0.9" stroke-dasharray="0.6 1.15"/>
<path d="M174.9 350.5L174.9 350.1L175.4 350.3L175.9 350.3L176.4 350.4L176.9 350.0L177.4 350.0L177.9 350.0L178.4 350.0L178.9 350.3L179.4 350.0L179.9 350.2L180.4 350.0L180.9 350.0L181.4 350.1L181.9 350.3L182.4 350.2L182.9 349.9L183.4 350.0L183.9 349.9L184.4 350.3L184.9 350.2L185.4 350.2L185.9 350.2L186.4 350.2L186.9 350.3L187.4 350.2L187.9 349.7L188.4 349.7L188.9 349.2L189.4 349.0L189.9 348.7L190.4 348.3L190.9 348.0L191.4 347.7L191.9 347.3L192.4 346.8L192.9 347.2L193.4 347.1L193.9 347.1L194.4 346.7L194.9 346.3L195.4 346.1L195.9 345.0L196.4 345.2L196.9 344.5L197.4 343.6L197.9 343.3L198.4 343.5L198.9 342.7L199.4 342.7L199.9 342.9L200.4 342.9L200.9 342.9L201.4 343.9L201.9 343.9L202.4 344.1L202.9 344.4L203.4 344.9L203.9 344.8L204.4 345.8L204.9 346.2L205.4 345.6L205.9 346.1L206.4 346.4L206.9 345.5L207.4 345.6L207.9 346.4L208.4 346.5L208.9 346.2L209.4 345.5L209.9 345.6L210.4 346.0L210.9 345.8L211.4 345.6L211.9 344.6L212.4 344.8L212.9 343.5L213.4 343.4L213.9 341.6L214.4 342.5L214.9 340.0L215.4 338.5L215.9 335.5L216.4 334.0L216.9 331.5L217.4 328.6L217.9 324.8L218.4 322.6L218.9 318.1L219.4 314.4L219.9 311.1L220.4 309.8L220.9 307.0L221.4 307.3L221.9 306.9L222.4 308.4L222.9 308.2L223.4 309.5L223.9 312.0L224.4 317.7L224.9 322.4L225.4 326.3L225.9 330.6L226.4 336.9L226.9 338.0L227.4 340.8L227.9 343.0L228.4 345.0L228.9 345.4L229.4 346.8L229.9 347.6L230.4 348.5L230.9 348.8L231.4 350.5Z" fill="#000"/>
<line x1="177.50" y1="320.40" x2="213.50" y2="320.40" stroke="#666" stroke-width="1.2" />
<line x1="177.50" y1="317.90" x2="177.50" y2="322.90" stroke="#666" stroke-width="1.1" />
<line x1="213.50" y1="317.90" x2="213.50" y2="322.90" stroke="#666" stroke-width="1.1" />
<text x="196.10" y="316.00" font-size="8.0" text-anchor="middle" font-weight="normal" fill="#1a1a1a" >15%</text>
<path d="M251.40 307.40H307.50" fill="none" stroke="#3c3c3c" stroke-width="0.8"/>
<path d="M307.50 307.40V350.50" fill="none" stroke="#606060" stroke-width="0.8"/>
<path d="M251.40 307.40V350.50" fill="none" stroke="#222" stroke-width="0.9"/>
<path d="M251.40 350.50H307.50" fill="none" stroke="#1a1a1a" stroke-width="0.95"/>
<line x1="250.50" y1="308.00" x2="250.50" y2="350.50" stroke="#444" stroke-width="1.2" stroke-dasharray="0.7 0.8"/>
<line x1="251.40" y1="351.30" x2="307.50" y2="351.30" stroke="#555" stroke-width="0.9" stroke-dasharray="0.6 1.15"/>
<line x1="249.90" y1="309.40" x2="249.90" y2="349.50" stroke="#555" stroke-width="1.0" stroke-dasharray="1.0 0.7 0.5 0.6 1.4 0.8"/>
<path d="M251.4 350.5L251.4 350.0L251.9 350.3L252.4 350.3L252.9 350.4L253.4 350.1L253.9 350.0L254.4 350.3L254.9 350.2L255.4 350.0L255.9 350.2L256.4 350.1L256.9 350.2L257.4 349.9L257.9 349.9L258.4 350.3L258.9 350.0L259.4 349.8L259.9 350.1L260.4 349.9L260.9 349.6L261.4 349.8L261.9 349.8L262.4 349.4L262.9 349.5L263.4 348.8L263.9 348.5L264.4 347.9L264.9 347.5L265.4 347.5L265.9 346.2L266.4 346.0L266.9 344.5L267.4 343.8L267.9 343.2L268.4 341.7L268.9 339.0L269.4 338.6L269.9 337.2L270.4 334.4L270.9 332.3L271.4 332.4L271.9 329.5L272.4 326.7L272.9 325.4L273.4 322.7L273.9 322.1L274.4 319.2L274.9 316.6L275.4 316.9L275.9 314.5L276.4 316.4L276.9 317.1L277.4 320.2L277.9 319.9L278.4 322.2L278.9 322.2L279.4 324.4L279.9 326.1L280.4 326.8L280.9 327.7L281.4 328.8L281.9 329.6L282.4 331.1L282.9 330.8L283.4 332.7L283.9 333.1L284.4 335.8L284.9 337.0L285.4 335.7L285.9 336.5L286.4 338.6L286.9 338.9L287.4 338.1L287.9 340.5L288.4 341.7L288.9 341.0L289.4 341.2L289.9 342.0L290.4 343.1L290.9 342.2L291.4 342.6L291.9 342.8L292.4 343.7L292.9 343.5L293.4 343.3L293.9 343.6L294.4 343.1L294.9 343.6L295.4 344.8L295.9 344.2L296.4 343.8L296.9 344.9L297.4 344.1L297.9 344.2L298.4 344.1L298.9 344.6L299.4 344.9L299.9 345.2L300.4 346.2L300.9 345.8L301.4 346.1L301.9 346.8L302.4 347.4L302.9 347.3L303.4 347.9L303.9 348.1L304.4 348.5L304.9 348.8L305.4 349.2L305.9 349.4L306.4 349.6L306.9 350.0L307.0 350.5Z" fill="#000"/>
<line x1="254.20" y1="320.40" x2="289.80" y2="320.40" stroke="#666" stroke-width="1.2" />
<line x1="254.20" y1="317.90" x2="254.20" y2="322.90" stroke="#666" stroke-width="1.1" />
<line x1="289.80" y1="317.90" x2="289.80" y2="322.90" stroke="#666" stroke-width="1.1" />
<text x="272.40" y="316.00" font-size="8.0" text-anchor="middle" font-weight="normal" fill="#1a1a1a" >88%</text>
<line x1="23.20" y1="362.30" x2="301.00" y2="362.30" stroke="#4a4a4a" stroke-width="0.9" />
<path d="M304.5 362.3L298.6 359.5V365.1Z" fill="#000"/>
<text x="163.30" y="374.90" font-size="9.4" text-anchor="middle" font-weight="normal" fill="#111" >CFSE</text>
</g>
<g id="panelD">
<text transform="translate(325.70 229.20) scale(0.89 1)" font-size="17.6" font-weight="bold" fill="#000" stroke="#000" stroke-width="0.2">D</text>
<line x1="356.60" y1="249.30" x2="356.60" y2="348.30" stroke="#505050" stroke-width="0.85" />
<line x1="356.60" y1="348.30" x2="519.00" y2="348.30" stroke="#505050" stroke-width="0.85" />
<line x1="354.60" y1="348.30" x2="356.60" y2="348.30" stroke="#505050" stroke-width="0.85" />
<text x="353.10" y="351.00" font-size="7.5" text-anchor="end" font-weight="normal" fill="#111" >0</text>
<line x1="354.60" y1="331.80" x2="356.60" y2="331.80" stroke="#505050" stroke-width="0.85" />
<text x="353.10" y="334.50" font-size="7.5" text-anchor="end" font-weight="normal" fill="#111" >1</text>
<line x1="354.60" y1="315.30" x2="356.60" y2="315.30" stroke="#505050" stroke-width="0.85" />
<text x="353.10" y="318.00" font-size="7.5" text-anchor="end" font-weight="normal" fill="#111" >2</text>
<line x1="354.60" y1="298.80" x2="356.60" y2="298.80" stroke="#505050" stroke-width="0.85" />
<text x="353.10" y="301.50" font-size="7.5" text-anchor="end" font-weight="normal" fill="#111" >3</text>
<line x1="354.60" y1="282.30" x2="356.60" y2="282.30" stroke="#505050" stroke-width="0.85" />
<text x="353.10" y="285.00" font-size="7.5" text-anchor="end" font-weight="normal" fill="#111" >4</text>
<line x1="354.60" y1="265.80" x2="356.60" y2="265.80" stroke="#505050" stroke-width="0.85" />
<text x="353.10" y="268.50" font-size="7.5" text-anchor="end" font-weight="normal" fill="#111" >5</text>
<line x1="354.60" y1="249.30" x2="356.60" y2="249.30" stroke="#505050" stroke-width="0.85" />
<text x="353.10" y="252.00" font-size="7.5" text-anchor="end" font-weight="normal" fill="#111" >6</text>
<text x="333.10" y="298.10" font-size="7.5" text-anchor="middle" font-weight="normal" fill="#111" transform="rotate(-90 333.10 298.10)" >Cytokines</text>
<text x="341.80" y="298.00" font-size="7.3" text-anchor="middle" font-weight="normal" fill="#111" transform="rotate(-90 341.80 298.00)"  class="s">(ng/mL pr. 10<tspan font-size="68%" dy="-0.82em" dx="0.1em">6</tspan><tspan dy="0.558em" dx="0.2em"> splenocytes)</tspan></text>
<rect x="481.00" y="250.10" width="33.30" height="32.20" fill="#fff" stroke="#707070" stroke-width="1"/>
<rect x="484.00" y="253.30" width="5.70" height="5.80" fill="#000" stroke="#333" stroke-width="0.7"/>
<text x="491.80" y="259.00" font-size="7.6" text-anchor="start" font-weight="normal" fill="#111" >IL-4</text>
<rect x="484.00" y="263.00" width="5.70" height="5.80" fill="#7f7f7f" stroke="#333" stroke-width="0.7"/>
<text x="491.80" y="268.70" font-size="7.6" text-anchor="start" font-weight="normal" fill="#111" >IL-5</text>
<rect x="484.00" y="272.70" width="5.70" height="5.80" fill="#fff" stroke="#333" stroke-width="0.7"/>
<text x="491.80" y="278.40" font-size="7.6" text-anchor="start" font-weight="normal" fill="#111" >IL-10</text>
<rect x="393.00" y="332.70" width="7.45" height="15.60" fill="#000" stroke="#222" stroke-width="0.8"/>
<line x1="396.73" y1="330.50" x2="396.73" y2="332.70" stroke="#a8a8a8" stroke-width="1.5" />
<line x1="395.73" y1="330.80" x2="397.73" y2="330.80" stroke="#aaa" stroke-width="0.8" />
<rect x="400.45" y="270.60" width="7.30" height="77.70" fill="#7f7f7f" stroke="#222" stroke-width="0.8"/>
<line x1="404.10" y1="266.50" x2="404.10" y2="270.60" stroke="#a8a8a8" stroke-width="1.5" />
<line x1="403.10" y1="266.80" x2="405.10" y2="266.80" stroke="#aaa" stroke-width="0.8" />
<rect x="407.75" y="310.80" width="6.90" height="37.50" fill="#fff" stroke="#222" stroke-width="0.8"/>
<line x1="411.20" y1="306.50" x2="411.20" y2="310.80" stroke="#a8a8a8" stroke-width="1.5" />
<line x1="410.20" y1="306.80" x2="412.20" y2="306.80" stroke="#aaa" stroke-width="0.8" />
<rect x="457.50" y="328.80" width="7.45" height="19.50" fill="#000" stroke="#222" stroke-width="0.8"/>
<rect x="464.95" y="290.00" width="7.30" height="58.30" fill="#7f7f7f" stroke="#222" stroke-width="0.8"/>
<line x1="468.60" y1="285.00" x2="468.60" y2="290.00" stroke="#a8a8a8" stroke-width="1.5" />
<line x1="467.60" y1="285.30" x2="469.60" y2="285.30" stroke="#aaa" stroke-width="0.8" />
<rect x="472.25" y="335.20" width="6.90" height="13.10" fill="#fff" stroke="#222" stroke-width="0.8"/>
<line x1="475.70" y1="334.00" x2="475.70" y2="335.20" stroke="#a8a8a8" stroke-width="1.5" />
<line x1="474.70" y1="334.30" x2="476.70" y2="334.30" stroke="#aaa" stroke-width="0.8" />
<rect x="490.00" y="339.20" width="7.45" height="9.10" fill="#000" stroke="#222" stroke-width="0.8"/>
<rect x="497.45" y="319.00" width="7.30" height="29.30" fill="#7f7f7f" stroke="#222" stroke-width="0.8"/>
<line x1="501.10" y1="318.00" x2="501.10" y2="319.00" stroke="#a8a8a8" stroke-width="1.5" />
<line x1="500.10" y1="318.30" x2="502.10" y2="318.30" stroke="#aaa" stroke-width="0.8" />
<rect x="504.75" y="343.80" width="6.90" height="4.50" fill="#fff" stroke="#222" stroke-width="0.8"/>
<line x1="508.20" y1="342.00" x2="508.20" y2="343.80" stroke="#a8a8a8" stroke-width="1.5" />
<line x1="507.20" y1="342.30" x2="509.20" y2="342.30" stroke="#aaa" stroke-width="0.8" />
<text x="372.10" y="357.20" font-size="7.25" text-anchor="middle" font-weight="normal" fill="#111"  class="s">-</text>
<text x="404.30" y="357.20" font-size="7.25" text-anchor="middle" font-weight="normal" fill="#111"  class="s">-</text>
<text x="436.30" y="357.20" font-size="7.25" text-anchor="middle" font-weight="normal" fill="#111"  class="s">CD4-dpl</text>
<text x="468.80" y="357.20" font-size="7.25" text-anchor="middle" font-weight="normal" fill="#111"  class="s">CD8-dpl</text>
<text x="501.30" y="357.20" font-size="7.25" text-anchor="middle" font-weight="normal" fill="#111"  class="s">CD19-dpl</text>
<line x1="390.50" y1="360.80" x2="515.00" y2="360.80" stroke="#333" stroke-width="0.9" />
<text x="372.10" y="369.60" font-size="7.7" text-anchor="middle" font-weight="normal" fill="#111" >PBS</text>
<text x="453.80" y="369.60" font-size="7.7" text-anchor="middle" font-weight="normal" fill="#111" >FBS-DC</text>
</g>
</g>
</svg>
</body>
</html>
